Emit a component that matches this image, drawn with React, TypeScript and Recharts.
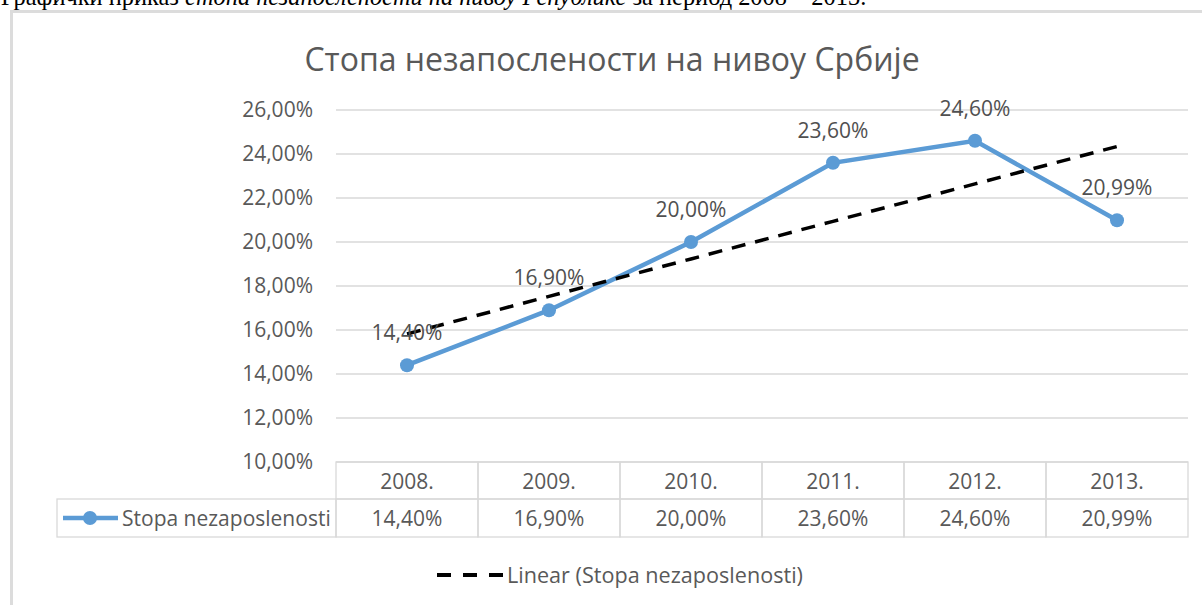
import React from 'react';
import { LineChart, Line, XAxis, YAxis, CartesianGrid, LabelList } from 'recharts';

const categories = ['2008.', '2009.', '2010.', '2011.', '2012.', '2013.'];
const rates = [14.4, 16.9, 20.0, 23.6, 24.6, 20.99];
const trendValues = [15.82, 17.53, 19.23, 20.94, 22.64, 24.34];
const yTicks = [10, 12, 14, 16, 18, 20, 22, 24, 26];
const seriesName = 'Stopa nezaposlenosti';
const trendName = 'Linear (Stopa nezaposlenosti)';
const chartTitle = 'Стопа незапослености на нивоу Србије';
const captionStart = 'Графички приказ ';
const captionItalic = 'стопа незапослености на нивоу Републике';
const captionEnd = ' за период 2008 – 2013.';

const data = categories.map((c, i) => ({ year: c, rate: rates[i], trend: trendValues[i] }));

const fmt = (v: number) => v.toFixed(2).replace('.', ',') + '%';

const FONT = '"Open Sans", sans-serif';
const BLUE = '#5B9BD5';
const GRID = '#d9d9d9';
const TXT = '#595959';
const CELL = 142;
const ROW1 = 37;
const ROW2 = 38;

const TableTick = (props: any) => {
  const { x, y, index } = props;
  const left = x - CELL / 2;
  return (
    <g>
      <rect x={left} y={y} width={CELL} height={ROW1} fill="none" stroke={GRID} strokeWidth={1.3} />
      <text x={x} y={y + ROW1 / 2} textAnchor="middle" dominantBaseline="central" fill={TXT} fontSize={21} fontFamily={FONT}>
        {categories[index]}
      </text>
      <rect x={left} y={y + ROW1} width={CELL} height={ROW2} fill="none" stroke={GRID} strokeWidth={1.3} />
      <text x={x} y={y + ROW1 + ROW2 / 2} textAnchor="middle" dominantBaseline="central" fill={TXT} fontSize={21} fontFamily={FONT}>
        {fmt(rates[index])}
      </text>
      {index === 0 && (
        <g>
          <rect x={left - 279} y={y + ROW1} width={279} height={ROW2} fill="none" stroke={GRID} strokeWidth={1.3} />
          <line x1={left - 273} x2={left - 218} y1={y + ROW1 + ROW2 / 2} y2={y + ROW1 + ROW2 / 2} stroke={BLUE} strokeWidth={4.5} />
          <circle cx={left - 246} cy={y + ROW1 + ROW2 / 2} r={7} fill={BLUE} />
          <text x={left - 214} y={y + ROW1 + ROW2 / 2} dominantBaseline="central" fill={TXT} fontSize={21} fontFamily={FONT}>
            {seriesName}
          </text>
        </g>
      )}
    </g>
  );
};

export default function App() {
  return (
    <div style={{ position: 'absolute', left: 0, top: 0, width: 1202, height: 605, overflow: 'hidden', background: '#fff' }}>
      <svg width={1202} height={20} style={{ position: 'absolute', left: 0, top: 0 }}>
        <text x={1} y={5} fontFamily='"Liberation Serif", serif' fontSize={24.4} fill="#000">
          <tspan>{captionStart}</tspan>
          <tspan fontStyle="italic">{captionItalic}</tspan>
          <tspan>{captionEnd}</tspan>
        </text>
      </svg>
      <div style={{ position: 'absolute', left: 10, top: 10, width: 1400, height: 800, borderTop: '3px solid #dcdcdc', borderLeft: '3px solid #dcdcdc', boxSizing: 'border-box' }} />
      <div style={{ position: 'absolute', left: 0, top: 0 }}>
        <LineChart width={1202} height={605} data={data} margin={{ top: 110, right: 14, bottom: 63, left: 256 }}>
          <text x={612} y={58} textAnchor="middle" dominantBaseline="central" fill={TXT} fontSize={32} fontFamily={FONT}>
            {chartTitle}
          </text>
          <CartesianGrid horizontal vertical={false} stroke={GRID} strokeWidth={1.3} />
          <YAxis
            type="number"
            domain={[10, 26]}
            ticks={yTicks}
            width={80}
            tickFormatter={fmt}
            axisLine={false}
            tickLine={false}
            tickSize={0}
            tickMargin={23}
            tick={{ fill: TXT, fontSize: 21, fontFamily: FONT }}
          />
          <XAxis
            dataKey="year"
            height={80}
            interval={0}
            padding={{ left: CELL / 2, right: CELL / 2 }}
            axisLine={false}
            tickLine={false}
            tickSize={0}
            tickMargin={0}
            tick={<TableTick />}
          />
          <Line
            dataKey="rate"
            name={seriesName}
            stroke={BLUE}
            strokeWidth={4.5}
            dot={{ r: 7, fill: BLUE, stroke: BLUE, strokeWidth: 0 }}
            isAnimationActive={false}
          >
            <LabelList dataKey="rate" position="top" offset={25} formatter={(v: any) => fmt(Number(v))} fill="#505050" fontSize={21} fontFamily={FONT} />
          </Line>
          <Line
            dataKey="trend"
            name={trendName}
            stroke="#000"
            strokeWidth={3.5}
            strokeDasharray="14 10"
            dot={false}
            activeDot={false}
            isAnimationActive={false}
          />
        </LineChart>
      </div>
      <svg width={1202} height={40} style={{ position: 'absolute', left: 0, top: 555 }}>
        <line x1={437} x2={503} y1={20} y2={20} stroke="#000" strokeWidth={4} strokeDasharray="14 12" />
        <text x={507} y={20} dominantBaseline="central" fill={TXT} fontSize={21} fontFamily={FONT} textLength={296} lengthAdjust="spacingAndGlyphs">
          {trendName}
        </text>
      </svg>
    </div>
  );
}
